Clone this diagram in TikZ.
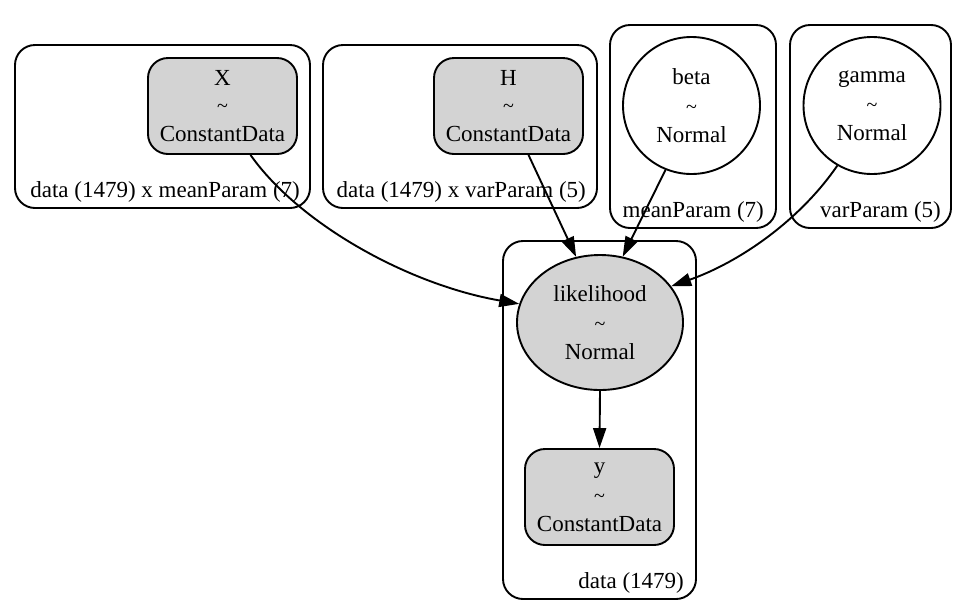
\documentclass[tikz,border=0pt]{standalone}
\usepackage{fontspec}
\setmainfont{Liberation Serif}
\usetikzlibrary{arrows.meta,shapes.geometric,calc}
\definecolor{nodegray}{HTML}{D3D3D3}
\newcommand{\tld}{{\fontsize{20}{20}\selectfont\char"7E}}
\begin{document}
\begin{tikzpicture}[x=1pt,y=-1pt,
  every node/.style={font=\fontsize{23}{29}\selectfont, inner sep=0pt},
  cluster/.style={draw, line width=1.9pt, rounded corners=20pt},
  datanode/.style={draw, line width=1.9pt, fill=nodegray, rounded corners=20pt, minimum width=149pt, minimum height=96pt, align=center},
  randnode/.style={draw, line width=1.9pt, circle, minimum size=137pt, align=center},
  obsnode/.style={draw, line width=1.9pt, ellipse, fill=nodegray, minimum width=166pt, minimum height=135pt, align=center},
  clabel/.style={anchor=base east},
  edge/.style={line width=1.9pt, -{Triangle[length=20pt,width=13pt]}}
]
\useasboundingbox (0,0) rectangle (963,614);
% clusters
\draw[cluster] (15,45) rectangle (310,208);
\draw[cluster] (323,45) rectangle (597,208);
\draw[cluster] (610,25) rectangle (776,228);
\draw[cluster] (790,25) rectangle (951,228);
\draw[cluster] (503,241) rectangle (696,599);
% cluster labels
\node[clabel] (l1) at (300,197) {data (1479) x meanParam (7)};
\node[clabel] (l2) at (586,197) {data (1479) x varParam (5)};
\node[clabel] (l3) at (764,217) {meanParam (7)};
\node[clabel] (l4) at (941,217) {varParam (5)};
\node[clabel] (l5) at (684,588) {data (1479)};
% nodes
\node[datanode] (X) at (222.5,106) {\raisebox{-2pt}{X}\\\tld\\ConstantData};
\node[datanode] (H) at (508.5,106) {\raisebox{-2pt}{H}\\\tld\\ConstantData};
\node[randnode] (beta) at (691.5,105.5) {beta\\\tld\\Normal};
\node[randnode] (gamma) at (872,105.5) {gamma\\\tld\\Normal};
\node[obsnode] (like) at (600,322.5) {likelihood\\\tld\\Normal};
\node[datanode] (y) at (599.5,497) {y\\\tld\\ConstantData};
% edges
\draw[edge] ($(X.south)+(28,0)$) .. controls (300,225) and (410,285) .. (like.167);
\draw[edge] ($(H.south)+(20,0)$) -- (like.110);
\draw[edge] (beta.248) -- (like.71);
\draw[edge] (gamma.240) .. controls (800,220) and (740,262) .. (like.27);
\draw[edge] (like.south) -- (y.north);
\end{tikzpicture}
\end{document}
